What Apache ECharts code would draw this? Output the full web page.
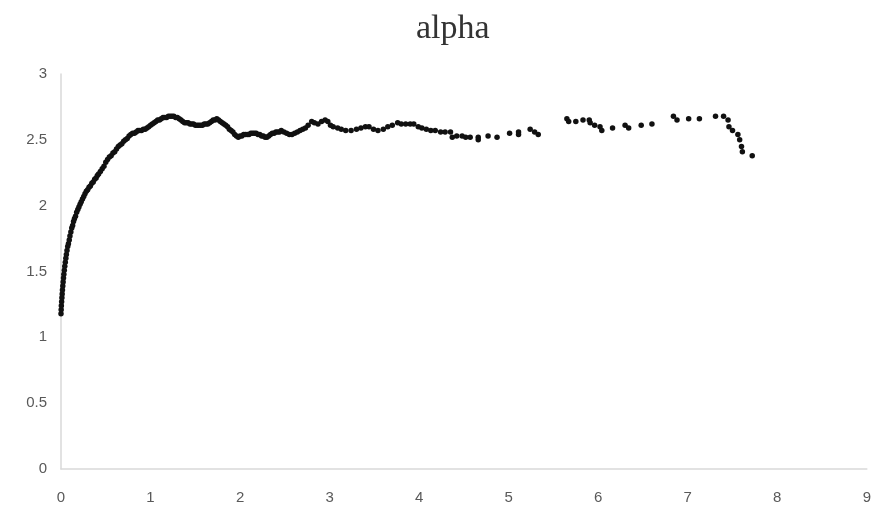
<!DOCTYPE html>
<html>
<head>
<meta charset="utf-8">
<script src="https://cdn.jsdelivr.net/npm/echarts@6/dist/echarts.min.js"></script>
<style>
html,body{margin:0;padding:0;background:#fff;}
#chart{width:874px;height:510px;}
</style>
</head>
<body>
<div id="chart"></div>
<script>
var chartTitle = "alpha";
var xTicks = [0,1,2,3,4,5,6,7,8,9];
var yTicks = [0,0.5,1,1.5,2,2.5,3];

var xValues = [
0,0.002,0.004,0.007,0.010,0.013,0.016,0.020,0.024,0.028,0.032,0.037,0.042,0.048,0.054,0.060,0.067,0.075,0.083,0.092,0.100,0.110,0.120,0.130,0.140,0.150,0.162,0.175,0.188,0.200,0.213,0.226,0.240,0.254,0.268,0.283,0.298,0.313,0.328,0.344,0.360,0.376,0.392,0.406,
0.42,0.44,0.46,0.48,0.50,0.52,0.54,0.56,0.58,0.60,0.62,0.64,0.66,0.68,0.70,0.72,0.74,0.76,0.78,0.80,0.82,0.84,0.86,0.88,0.90,0.92,0.94,0.96,0.98,1.00,
1.02,1.04,1.06,1.08,1.10,1.12,1.14,1.16,1.18,1.20,1.22,1.24,1.26,1.28,1.30,1.32,1.34,1.36,1.38,1.40,1.42,1.44,1.46,1.48,1.50,1.52,1.54,1.56,1.58,1.60,
1.62,1.64,1.66,1.68,1.70,1.72,1.74,1.76,1.78,1.80,1.82,1.84,1.86,1.88,1.90,1.92,1.94,1.96,1.98,2.00,2.02,2.04,2.06,2.08,2.10,2.12,2.14,2.16,2.18,2.20,
2.22,2.24,2.26,2.28,2.30,2.32,2.34,2.36,2.38,2.40,2.42,2.44,2.46,2.49,2.52,2.55,2.58,2.61,2.64,2.67,2.70,2.73,2.76,2.80,2.83,2.87,2.91,2.95,2.98,3.01,
3.04,3.09,3.13,3.18,3.24,3.30,3.35,3.40,3.44,3.49,3.54,3.60,3.65,3.70,3.76,3.80,3.85,3.90,3.94,3.99,4.03,4.08,4.13,4.18,4.24,4.29,4.35,4.37,4.42,4.48,4.52,4.57,4.66,4.66,4.77,4.87,5.01,5.11,5.11,5.24,5.29,5.33,
5.65,5.67,5.75,5.83,5.90,5.91,5.96,6.02,6.04,6.16,6.30,6.34,6.48,6.60,6.84,6.88,7.01,7.13,7.31,7.40,7.45,7.46,7.50,7.56,7.58,7.60,7.61,7.72
];
var yValues = [
1.18,1.21,1.24,1.27,1.30,1.33,1.36,1.39,1.42,1.45,1.48,1.51,1.54,1.57,1.60,1.63,1.66,1.69,1.71,1.74,1.77,1.80,1.83,1.85,1.88,1.90,1.92,1.95,1.97,1.99,2.01,2.03,2.05,2.07,2.09,2.11,2.12,2.14,2.15,2.17,2.18,2.20,2.21,2.23,
2.24,2.26,2.28,2.30,2.33,2.35,2.37,2.38,2.40,2.41,2.43,2.45,2.46,2.47,2.49,2.50,2.51,2.53,2.54,2.55,2.55,2.56,2.57,2.57,2.57,2.58,2.58,2.59,2.60,2.61,
2.62,2.63,2.64,2.65,2.65,2.66,2.67,2.67,2.67,2.68,2.68,2.68,2.68,2.67,2.67,2.66,2.65,2.64,2.63,2.63,2.63,2.62,2.62,2.62,2.61,2.61,2.61,2.61,2.61,2.62,
2.62,2.62,2.63,2.64,2.65,2.65,2.66,2.65,2.64,2.63,2.62,2.61,2.60,2.58,2.57,2.56,2.54,2.53,2.52,2.53,2.53,2.54,2.54,2.54,2.54,2.55,2.55,2.55,2.55,2.54,
2.54,2.53,2.53,2.52,2.52,2.53,2.54,2.55,2.55,2.56,2.56,2.56,2.57,2.56,2.55,2.54,2.54,2.55,2.56,2.57,2.58,2.59,2.61,2.64,2.63,2.62,2.64,2.65,2.64,2.61,
2.60,2.59,2.58,2.57,2.57,2.58,2.59,2.60,2.60,2.58,2.57,2.58,2.60,2.61,2.63,2.62,2.62,2.62,2.62,2.60,2.59,2.58,2.57,2.57,2.56,2.56,2.56,2.52,2.53,2.53,2.52,2.52,2.52,2.50,2.53,2.52,2.55,2.56,2.54,2.58,2.56,2.54,
2.66,2.64,2.64,2.65,2.65,2.63,2.61,2.60,2.57,2.59,2.61,2.59,2.61,2.62,2.68,2.65,2.66,2.66,2.68,2.68,2.65,2.60,2.57,2.54,2.50,2.45,2.41,2.38
];

var points = xValues.map(function(x, i){ return [x, yValues[i]]; });

var chart = echarts.init(document.getElementById('chart'), null, {renderer:'canvas'});
chart.setOption({
  animation:false,
  backgroundColor:'#ffffff',
  title:{
    text: chartTitle,
    left:411,
    top:7,
    textStyle:{fontFamily:'Liberation Serif', fontSize:34, fontWeight:'normal', color:'#333333'}
  },
  grid:{left:61, right:2, top:74, bottom:41, containLabel:false},
  xAxis:{
    type:'value', min:xTicks[0], max:xTicks[xTicks.length-1], interval:1,
    axisLine:{show:true, onZero:false, lineStyle:{color:'#d9d9d9', width:1.5}},
    axisTick:{show:false},
    splitLine:{show:false},
    axisLabel:{color:'#595959', fontFamily:'Liberation Sans', fontSize:15, margin:21,
      formatter:function(v){ return String(v); }}
  },
  yAxis:{
    type:'value', min:yTicks[0], max:yTicks[yTicks.length-1], interval:0.5,
    axisLine:{show:true, lineStyle:{color:'#d9d9d9', width:1.5}},
    axisTick:{show:false},
    splitLine:{show:false},
    axisLabel:{color:'#595959', fontFamily:'Liberation Sans', fontSize:15, margin:14,
      formatter:function(v){ return String(v); }}
  },
  series:[{
    type:'scatter',
    data: points,
    symbol:'circle',
    symbolSize:5.5,
    itemStyle:{color:'#111111', opacity:1}
  }]
});
</script>
</body>
</html>
